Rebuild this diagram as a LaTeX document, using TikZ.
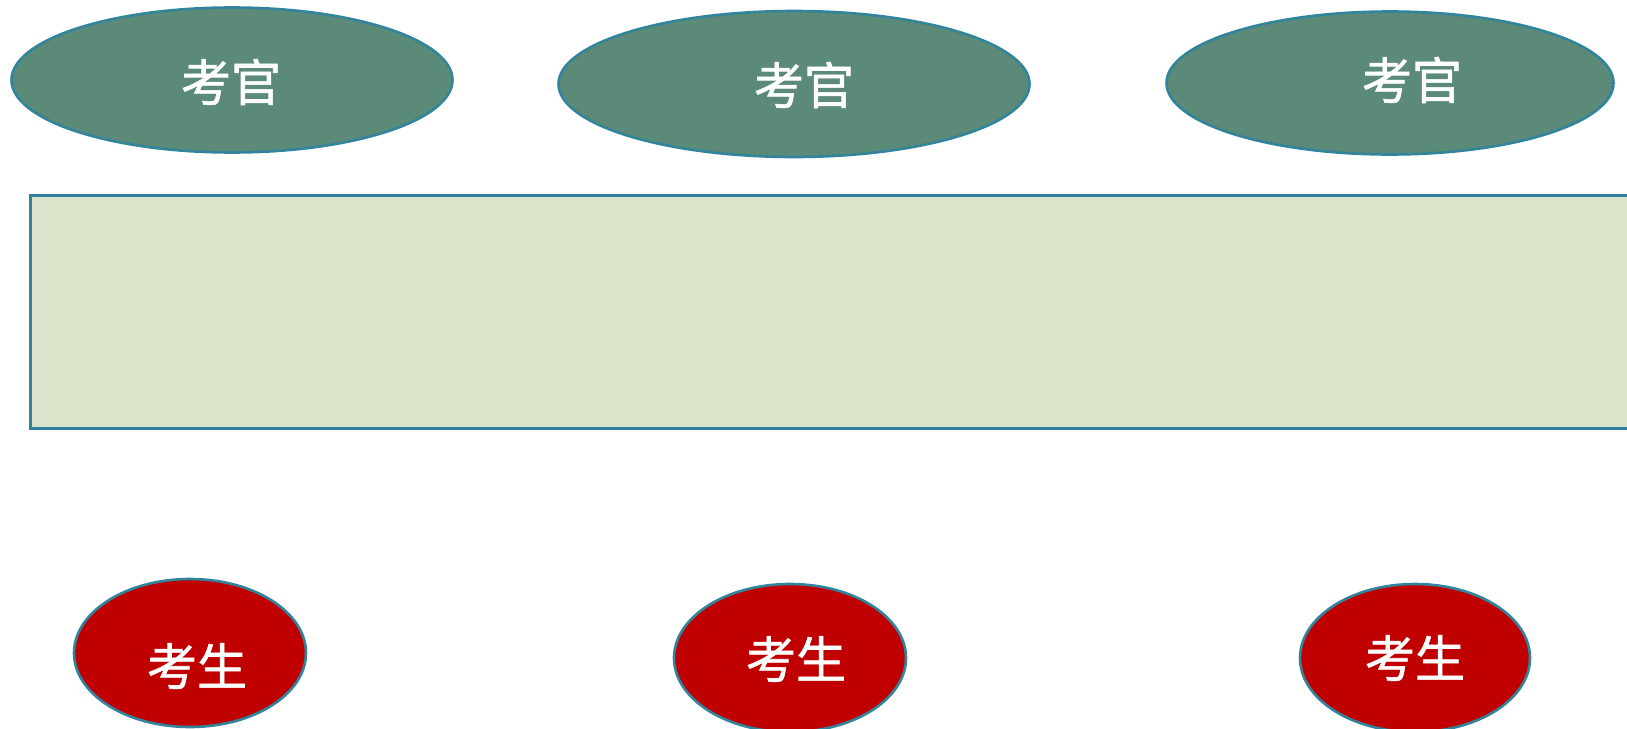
\documentclass[tikz,border=0pt]{standalone}
\usepackage{fontspec}
\newfontfamily\cjk[FakeBold=1.2]{Noto Sans CJK SC}
\usetikzlibrary{shapes.geometric}
\definecolor{examgreen}{HTML}{5B8A78}
\definecolor{edgeteal}{HTML}{31849B}
\definecolor{examred}{HTML}{C00000}
\definecolor{boardfill}{HTML}{DBE3CB}
\begin{document}
\begin{tikzpicture}[x=1pt,y=-1pt,
  examiner/.style={ellipse,draw=edgeteal,line width=2.6pt,fill=examgreen,inner sep=0pt},
  candidate/.style={ellipse,draw=edgeteal,line width=2.6pt,fill=examred,inner sep=0pt},
  lbl/.style={text=white,font=\cjk\fontsize{50}{50}\selectfont,inner sep=0pt},
  board/.style={draw=edgeteal,line width=3pt,fill=boardfill}]
\useasboundingbox (0,0) rectangle (1627,728);
% examiners
\node[examiner,minimum width=441pt,minimum height=145pt] (e1) at (232,80) {};
\node[examiner,minimum width=471pt,minimum height=146pt] (e2) at (794,84) {};
\node[examiner,minimum width=447pt,minimum height=143pt] (e3) at (1390,83) {};
\node[lbl] (t1) at (231,82) {考官};
\node[lbl] (t2) at (804,85) {考官};
\node[lbl] (t3) at (1412,80) {考官};
% board
\draw[board] (30,195) rectangle (1640,428);
% candidates
\node[candidate,minimum width=232pt,minimum height=148pt] (c1) at (190,653) {};
\node[candidate,minimum width=232pt,minimum height=148pt] (c2) at (790,658) {};
\node[candidate,minimum width=230pt,minimum height=148pt] (c3) at (1415,658) {};
\node[lbl] (s1) at (197,666) {考生};
\node[lbl] (s2) at (796,659) {考生};
\node[lbl] (s3) at (1415,658) {考生};
\end{tikzpicture}
\end{document}
